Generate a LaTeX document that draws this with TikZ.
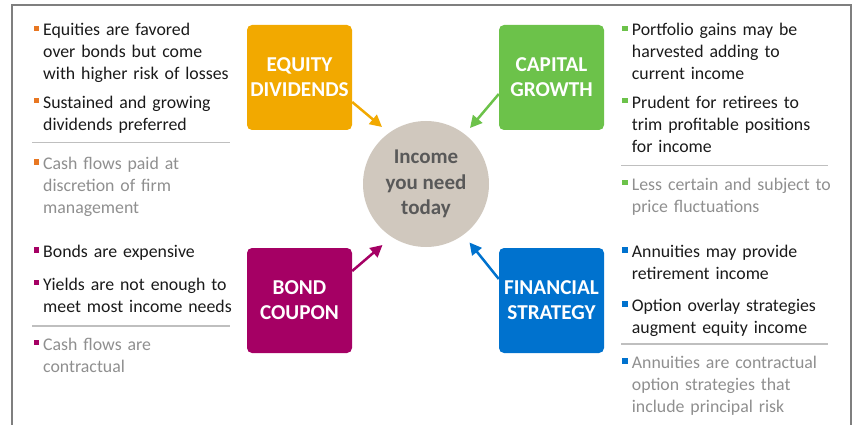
\documentclass[tikz,border=0pt]{standalone}
\usepackage{fontspec}
\setmainfont{Carlito}
\usetikzlibrary{arrows.meta,calc}
\definecolor{eqcol}{HTML}{F2A900}
\definecolor{eqbul}{HTML}{E87722}
\definecolor{cgcol}{HTML}{6CC24A}
\definecolor{bdcol}{HTML}{A50064}
\definecolor{fscol}{HTML}{0072CE}
\definecolor{circfill}{HTML}{D0C8BE}
\definecolor{circtxt}{HTML}{595959}
\definecolor{bodytxt}{HTML}{1A1A1A}
\definecolor{notetxt}{HTML}{8F8F8F}
\definecolor{rulecol}{HTML}{BFBFBF}
\definecolor{framecol}{HTML}{7F7F7F}
\begin{document}
\begin{tikzpicture}[x=1pt,y=-1pt,
  srcbox/.style={rounded corners=5pt, minimum width=105pt, minimum height=105pt,
    inner sep=0pt, text=white, align=center,
    font=\fontsize{21.2}{25}\selectfont\bfseries},
  hub/.style={circle, fill=circfill, minimum size=126pt, inner sep=0pt,
    text=circtxt, align=center, font=\fontsize{21}{25.5}\selectfont\bfseries},
  item/.style={anchor=base west, text width=225pt, align=left, inner sep=0pt,
    font=\fontsize{17.8}{22}\selectfont, text=bodytxt},
  note/.style={item, text=notetxt},
  feed/.style={line width=2.5pt, -{Triangle[length=12pt,width=12pt]}},
  sep/.style={rulecol, line width=1.5pt}]
\useasboundingbox (0,0) rectangle (854,425);

% outer frame, open at the bottom
\draw[framecol, line width=2pt] (12,426) -- (12,5.5) -- (850.5,5.5) -- (850.5,426);

% income sources and the hub
\node[srcbox, fill=eqcol] (eq) at (299.5,77.5) {EQUITY\\DIVIDENDS};
\node[srcbox, fill=cgcol] (cg) at (551.5,77.5) {CAPITAL\\GROWTH};
\node[srcbox, fill=bdcol] (bd) at (299.5,300.5) {BOND\\COUPON};
\node[srcbox, fill=fscol] (fs) at (551.5,300.5) {FINANCIAL\\STRATEGY};
\node[hub] (inc) at (426,184) {Income\\you need\\today};

% arrows into the hub
\draw[feed, eqcol] ($(eq.east)+(0,24.5)$) -- ($(inc.center)+(-44,-57)$);
\draw[feed, cgcol] ($(cg.west)+(0,16.5)$) -- ($(inc.center)+(44,-56)$);
\draw[feed, bdcol] ($(bd.east)+(0,-29.5)$) -- ($(inc.center)+(-43.5,61)$);
\draw[feed, fscol] ($(fs.west)+(0,-21.5)$) -- ($(inc.center)+(43.5,58.5)$);

% left column: equity dividends
\node[item] (l1) at (43,36) {Equities are favored\\over bonds but come\\with higher risk of losses};
\node[item] (l2) at (43,108.3) {Sustained and growing\\dividends preferred};
\draw[sep] (32,142.7) -- (230,142.7);
\node[note] (l3) at (43,169.3) {Cash flows paid at\\discretion of firm\\management};

% left column: bond coupon
\node[item] (l4) at (43,257.3) {Bonds are expensive};
\node[item] (l5) at (43,290) {Yields are not enough to\\meet most income needs};
\draw[sep] (32,326) -- (230,326);
\node[note] (l6) at (43,350) {Cash flows are\\contractual};

% right column: capital growth
\node[item] (r1) at (631.7,36) {Portfolio gains may be\\harvested adding to\\current income};
\node[item] (r2) at (631.7,108.3) {Prudent for retirees to\\trim profitable positions\\for income};
\draw[sep] (621,165.7) -- (828,165.7);
\node[note] (r3) at (631.7,190) {Less certain and subject to\\price fluctuations};

% right column: financial strategy
\node[item] (r4) at (631.7,257.3) {Annuities may provide\\retirement income};
\node[item] (r5) at (631.7,311.7) {Option overlay strategies\\augment equity income};
\draw[sep] (621,344) -- (828,344);
\node[note] (r6) at (631.7,368.3) {Annuities are contractual\\option strategies that\\include principal risk};

% square bullets
\foreach \n/\c in {l1/eqbul,l2/eqbul,l3/eqbul,l4/bdcol,l5/bdcol,l6/bdcol,
                   r1/cgcol,r2/cgcol,r3/cgcol,r4/fscol,r5/fscol,r6/fscol}
  \fill[\c] ($(\n.base west)+(-9.3,-10.3)$) rectangle +(5.5,5.5);
\end{tikzpicture}
\end{document}
